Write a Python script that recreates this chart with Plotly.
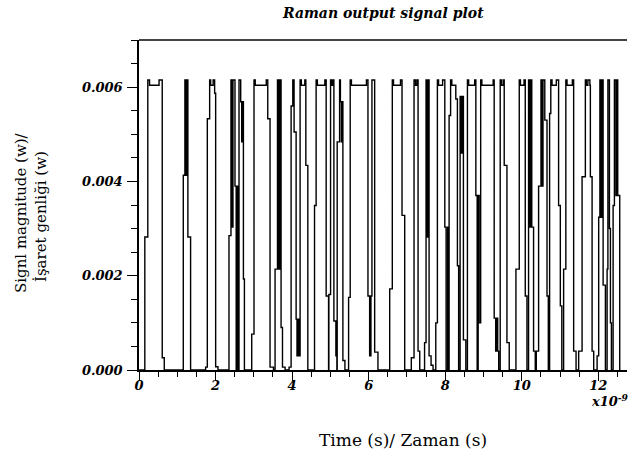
import plotly.graph_objects as go

# Time (ns, axis shown as x10^-9 s) and signal magnitude (W) of the step waveform
time_ns = [
    0.0,
    0.152, 0.230, 0.275, 0.524, 0.607, 0.660,
    1.157, 1.199, 1.225, 1.249, 1.277, 1.348,
    1.741, 1.785, 1.846, 1.872, 1.937, 1.976, 2.003, 2.063,
    2.351, 2.403, 2.429, 2.455, 2.508, 2.539, 2.565, 2.597, 2.613, 2.657, 2.683, 2.704, 2.728, 2.754,
    2.945, 3.005, 3.037, 3.325, 3.364, 3.424, 3.513,
    3.555, 3.618, 3.652, 3.678, 3.712, 3.749, 3.817,
    3.921, 3.974, 4.018, 4.052, 4.105, 4.128, 4.154, 4.181, 4.209, 4.241, 4.332, 4.359, 4.411,
    4.586, 4.628, 4.660, 4.856, 4.890, 4.953,
    4.961, 5.005, 5.034, 5.065, 5.092, 5.144, 5.170, 5.178, 5.241, 5.262, 5.288, 5.309, 5.327, 5.380,
    5.476, 5.518, 5.550, 5.942, 5.982, 6.026, 6.060, 6.086, 6.157, 6.243,
    6.550, 6.618, 6.649, 6.832, 6.872, 6.942,
    7.115, 7.186, 7.225, 7.264, 7.291, 7.335,
    7.461, 7.500, 7.526, 7.552, 7.579, 7.631, 7.683,
    7.754, 7.796, 7.827, 7.932, 7.990, 8.024, 8.063, 8.089, 8.102, 8.141, 8.173, 8.277, 8.319,
    8.351, 8.390, 8.416, 8.442, 8.476, 8.539,
    8.581, 8.613, 8.770, 8.801, 8.835, 8.861, 8.887, 8.927, 8.958, 9.254, 9.280, 9.319, 9.346,
    9.372, 9.398, 9.437, 9.469, 9.516, 9.542, 9.613, 9.673,
    9.848, 9.935, 9.966, 10.060, 10.092, 10.136,
    10.178, 10.209, 10.236, 10.262, 10.309, 10.353, 10.380, 10.440, 10.503, 10.529, 10.555, 10.602,
    10.660, 10.694, 10.728, 10.759, 10.791, 10.903, 10.963, 11.008, 11.047,
    11.094, 11.152, 11.183, 11.322, 11.356, 11.419,
    11.487, 11.576, 11.662, 11.688, 11.728, 11.780, 11.793, 11.838, 11.880,
    11.969, 12.010, 12.042, 12.068, 12.094, 12.126, 12.186, 12.230, 12.251, 12.291, 12.317, 12.343,
    12.387, 12.421, 12.461, 12.487, 12.508, 12.560,
]

signal_w = [
    0.0,
    0.00282, 0.00615, 0.00604, 0.00615, 0.00026, 0.0,
    0.00413, 0.00615, 0.00413, 0.00615, 0.00282, 0.0,
    0.00006, 0.00533, 0.00615, 0.00604, 0.00615, 0.00587, 0.00007, 0.0,
    0.00285, 0.00615, 0.00303, 0.00615, 0.00390, 0.0, 0.00390, 0.0, 0.00615, 0.00569, 0.00484, 0.00569, 0.00193, 0.0,
    0.00076, 0.00615, 0.00604, 0.00615, 0.00533, 0.00006, 0.0,
    0.00214, 0.00615, 0.00214, 0.00615, 0.00090, 0.00006, 0.0,
    0.00006, 0.00560, 0.00615, 0.00505, 0.00108, 0.00030, 0.00108, 0.00030, 0.00615, 0.00604, 0.00615, 0.00434, 0.0,
    0.00349, 0.00615, 0.00604, 0.00615, 0.00157, 0.0,
    0.00160, 0.00615, 0.00604, 0.00615, 0.00104, 0.00030, 0.0, 0.00484, 0.00615, 0.00569, 0.00484, 0.00569, 0.00020, 0.0,
    0.00154, 0.00615, 0.00604, 0.00615, 0.00157, 0.00030, 0.00157, 0.00615, 0.00038, 0.0,
    0.00172, 0.00615, 0.00604, 0.00615, 0.00328, 0.0,
    0.00026, 0.00615, 0.00604, 0.00615, 0.00040, 0.0,
    0.00058, 0.00615, 0.00282, 0.00615, 0.00030, 0.00010, 0.0,
    0.00100, 0.00615, 0.00604, 0.00615, 0.00303, 0.0, 0.00303, 0.0, 0.00540, 0.00615, 0.00604, 0.00575, 0.00221,
    0.0, 0.00580, 0.00460, 0.00580, 0.00064, 0.0,
    0.00615, 0.00604, 0.00615, 0.00370, 0.0, 0.00370, 0.00100, 0.00615, 0.00604, 0.00615, 0.00110, 0.00040, 0.00110,
    0.00040, 0.0, 0.00615, 0.00604, 0.00615, 0.00434, 0.00058, 0.0,
    0.00214, 0.00615, 0.00604, 0.00615, 0.00157, 0.0,
    0.00615, 0.00303, 0.00615, 0.00303, 0.00040, 0.0, 0.00040, 0.00390, 0.00615, 0.00390, 0.00615, 0.00530,
    0.00157, 0.0, 0.00544, 0.00615, 0.00604, 0.00615, 0.00349, 0.00136, 0.0,
    0.00214, 0.00615, 0.00604, 0.00615, 0.00040, 0.0,
    0.00040, 0.00410, 0.00615, 0.00604, 0.00615, 0.00604, 0.00410, 0.00040, 0.0,
    0.00030, 0.00324, 0.00615, 0.00324, 0.00615, 0.00180, 0.0, 0.00214, 0.00615, 0.00300, 0.00100, 0.0,
    0.00349, 0.00615, 0.00370, 0.00615, 0.00370, 0.0,
]

x_ticks = [0, 2, 4, 6, 8, 10, 12]
x_tick_labels = ["0", "2", "4", "6", "8", "10", "12"]
y_ticks = [0.0, 0.002, 0.004, 0.006]
y_tick_labels = ["0.000", "0.002", "0.004", "0.006"]

title_text = "Raman output signal plot"
x_title = "Time (s)/ Zaman (s)"
y_title_1 = "Signl magnitude (w)/"
y_title_2 = "İşaret genliği (w)"

tick_font = dict(family="DejaVu Serif", size=13, color="black", weight="bold", style="italic")
label_font = dict(family="DejaVu Serif", size=15, color="black")

fig = go.Figure()
fig.add_trace(go.Scatter(
    x=time_ns, y=signal_w, mode="lines",
    line=dict(color="black", width=1.4, shape="hv"),
    showlegend=False, hoverinfo="skip",
))

fig.update_layout(
    width=634, height=462,
    margin=dict(l=139, r=7, t=40, b=92),
    paper_bgcolor="white", plot_bgcolor="white",
    xaxis=dict(
        range=[0, 12.75], tickvals=x_ticks, ticktext=x_tick_labels,
        showgrid=False, zeroline=False, showline=True, linecolor="black", linewidth=1.5,
        ticks="outside", ticklen=9, tickwidth=1.3, tickcolor="black",
        minor=dict(dtick=0.5, ticks="outside", ticklen=5, tickwidth=1.3, tickcolor="black"),
        tickfont=tick_font, ticklabelstandoff=-6,
    ),
    yaxis=dict(
        range=[0, 0.007], tickvals=y_ticks, ticktext=y_tick_labels,
        showgrid=False, zeroline=False, showline=True, linecolor="black", linewidth=1.5,
        ticks="outside", ticklen=10, tickwidth=1.3, tickcolor="black",
        minor=dict(dtick=0.0005, ticks="outside", ticklen=6, tickwidth=1.3, tickcolor="black"),
        tickfont=tick_font, ticklabelstandoff=2,
    ),
    shapes=[dict(type="line", xref="paper", yref="paper", x0=0, x1=1, y0=1, y1=1,
                 line=dict(color="#444444", width=2))],
    annotations=[
        dict(text=title_text, xref="paper", yref="paper", x=0.5, y=1, yshift=27,
             showarrow=False, xanchor="center", yanchor="middle",
             font=dict(family="DejaVu Serif", size=14, color="black", weight="bold", style="italic")),
        dict(text=x_title, xref="paper", yref="paper", x=0.54, y=0, yshift=-70,
             showarrow=False, xanchor="center", yanchor="middle",
             font=dict(family="DejaVu Serif", size=17, color="black")),
        dict(text="x10<sup>-9</sup>", xref="paper", yref="paper", x=1, y=0, yshift=-30, xshift=4,
             showarrow=False, xanchor="right", yanchor="middle", font=tick_font),
        dict(text=y_title_1, xref="paper", yref="paper", x=0, y=0.5, xshift=-118, yshift=-8,
             showarrow=False, textangle=-90, xanchor="center", yanchor="middle", font=label_font),
        dict(text=y_title_2, xref="paper", yref="paper", x=0, y=0.5, xshift=-98, yshift=-12,
             showarrow=False, textangle=-90, xanchor="center", yanchor="middle", font=label_font),
    ],
)

fig.write_html("out.html")
